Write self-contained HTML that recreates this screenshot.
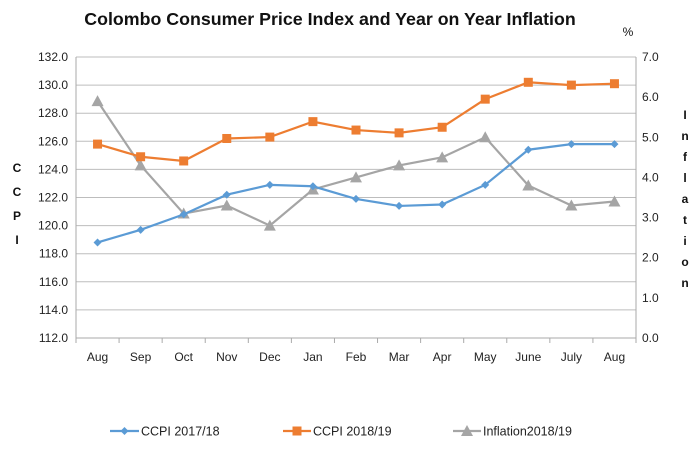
<!DOCTYPE html>
<html><head><meta charset="utf-8"><style>
body{margin:0;background:#fff;}
svg{display:block;font-family:"Liberation Sans",Arial,sans-serif;}
</style></head><body>
<svg id="chart" width="700" height="459" viewBox="0 0 700 459">
<rect width="700" height="459" fill="#fff"/>
<text x="330" y="25" text-anchor="middle" font-size="17.8" font-weight="bold" fill="#111">Colombo Consumer Price Index and Year on Year Inflation</text>
<text x="628" y="36" text-anchor="middle" font-size="12" fill="#111">%</text>
<g id="grid"></g>
<g id="axes"></g>
<g id="series"></g>
<g font-size="12" font-weight="bold" fill="#111" text-anchor="middle">
<text x="17" y="172">C</text><text x="17" y="196">C</text><text x="17" y="220">P</text><text x="17" y="244">I</text>
</g>
<g font-size="12" font-weight="bold" fill="#111" text-anchor="middle">
<text x="685" y="119">I</text><text x="685" y="140">n</text><text x="685" y="161">f</text><text x="685" y="182">l</text><text x="685" y="203">a</text><text x="685" y="224">t</text><text x="685" y="245">i</text><text x="685" y="266">o</text><text x="685" y="287">n</text>
</g>
<g id="legend"></g>
</svg>
<script>
const categories=["Aug","Sep","Oct","Nov","Dec","Jan","Feb","Mar","Apr","May","June","July","Aug"];
const ccpi1718=[118.8,119.7,120.8,122.2,122.9,122.8,121.9,121.4,121.5,122.9,125.4,125.8,125.8];
const ccpi1819=[125.8,124.9,124.6,126.2,126.3,127.4,126.8,126.6,127.0,129.0,130.2,130.0,130.1];
const inflation=[5.9,4.3,3.1,3.3,2.8,3.7,4.0,4.3,4.5,5.0,3.8,3.3,3.4];
const leftTicks=[112,114,116,118,120,122,124,126,128,130,132];
const rightTicks=[0,1,2,3,4,5,6,7];
const seriesNames=["CCPI 2017/18","CCPI 2018/19","Inflation2018/19"];

const NS="http://www.w3.org/2000/svg";
const X0=76,X1=636,Y0=57,Y1=338;
const xPos=i=>X0+(X1-X0)/categories.length*(i+0.5);
const yL=v=>Y1-(v-112)/(132-112)*(Y1-Y0);
const yR=v=>Y1-(v-0)/(7-0)*(Y1-Y0);
function mk(tag,attrs,parent,text){const e=document.createElementNS(NS,tag);for(const k in attrs)e.setAttribute(k,attrs[k]);if(text!==undefined)e.textContent=text;parent.appendChild(e);return e;}
const grid=document.getElementById('grid'),axes=document.getElementById('axes'),ser=document.getElementById('series'),leg=document.getElementById('legend');
leftTicks.forEach(t=>{
  const l=mk('line',{x1:X0,x2:X1,y1:yL(t),y2:yL(t),stroke:'#bdbdbd','stroke-width':1},grid);
  
  
  const tx=mk('text',{x:X0-8,y:yL(t)+4,'text-anchor':'end','font-size':12,fill:'#222'},axes,t.toFixed(1));
  
  
});
rightTicks.forEach(t=>{
  const tx=mk('text',{x:X1+6,y:yR(t)+4,'font-size':12,fill:'#222'},axes,t.toFixed(1));
  
  
});
mk('line',{x1:X0,x2:X0,y1:Y0,y2:Y1,stroke:'#aaa'},axes);
mk('line',{x1:X1,x2:X1,y1:Y0,y2:Y1,stroke:'#aaa'},axes);
mk('line',{x1:X0,x2:X1,y1:Y1,y2:Y1,stroke:'#aaa'},axes);
for(let i=0;i<=categories.length;i++){const x=X0+(X1-X0)/categories.length*i;mk('line',{x1:x,x2:x,y1:Y1,y2:Y1+5,stroke:'#aaa'},axes);}
categories.forEach((c,i)=>{
  const tx=mk('text',{x:xPos(i),y:361,'text-anchor':'middle','font-size':12,fill:'#222'},axes,c);
  
  
});
function marker(type,x,y,color,parent){
  if(type==='d')return mk('polygon',{points:`${x},${y-4} ${x+4},${y} ${x},${y+4} ${x-4},${y}`,fill:color},parent);
  if(type==='s')return mk('rect',{x:x-4.5,y:y-4.5,width:9,height:9,fill:color},parent);
  return mk('polygon',{points:`${x},${y-6} ${x+6},${y+5} ${x-6},${y+5}`,fill:color},parent);
}
const defs=[[ccpi1718,yL,'#5b9bd5','d','ccpi-2017-18'],[ccpi1819,yL,'#ed7d31','s','ccpi-2018-19'],[inflation,yR,'#a5a5a5','t','inflation-2018-19']];
[2,0,1].forEach(k=>{
  const [data,sc,col,m,name]=defs[k];
  const g=mk('g',{},ser);
  
  
  const pl=mk('polyline',{points:data.map((v,i)=>xPos(i)+','+sc(v)).join(' '),fill:'none',stroke:col,'stroke-width':2.2},g);
  
  
  data.forEach((v,i)=>{const mm=marker(m,xPos(i),sc(v),col,g);
    
    });
});
const legX=[[110,141],[283,313],[453,483]];
defs.forEach((d,k)=>{
  const g=mk('g',{},leg);
  
  
  mk('line',{x1:legX[k][0],x2:legX[k][1]-2,y1:431,y2:431,stroke:d[2],'stroke-width':2.2},g);
  marker(d[3],(legX[k][0]+legX[k][1]-2)/2,431,d[2],g);
  mk('text',{x:legX[k][1],y:435.5,'font-size':12.5,fill:'#222'},g,seriesNames[k]);
});
</script>
</body></html>
